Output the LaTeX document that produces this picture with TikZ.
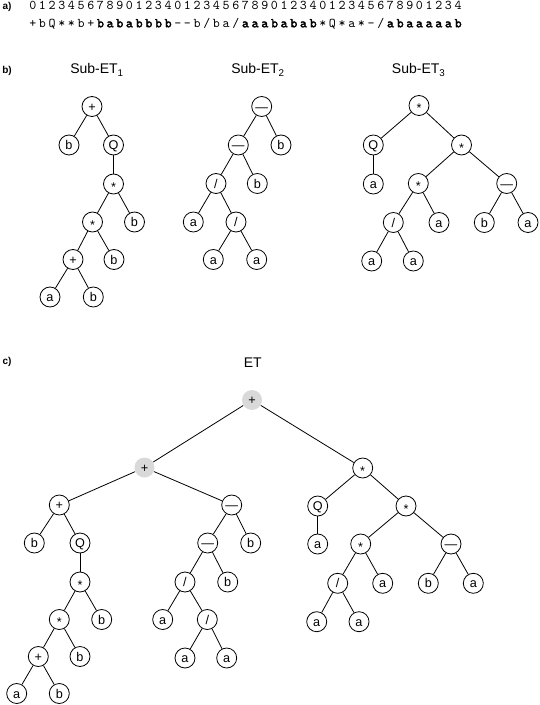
\documentclass[tikz,border=0pt]{standalone}
\usepackage{fontspec}
\setmainfont{Liberation Sans}
\newfontfamily\codefont{lmmono10-regular.otf}
\newfontfamily\codeb[FakeBold=2.5]{lmmono10-regular.otf}
\def\spread#1{\ifx#1\relax\else\makebox[7.25pt][c]{#1}\expandafter\spread\fi}
\newcommand\bspread{\codeb\fontsize{10}{11}\selectfont\spread}
\newcommand\astr{\raisebox{-2pt}{*}}
\tikzset{
  nd/.style={circle,draw,line width=0.6pt,minimum size=15pt,inner sep=0pt,
    font=\fontsize{9.5}{9.5}\selectfont,text height=6.8pt,text depth=0pt},
  gnd/.style={nd,draw=none,fill=black!15},
  ttl/.style={font=\fontsize{10.5}{12}\selectfont,inner sep=0pt,anchor=base west},
  lbl/.style={font=\bfseries\fontsize{7.5}{9}\selectfont,inner sep=0pt},
  code/.style={font=\codefont\fontsize{10}{11}\selectfont,inner sep=0pt,anchor=base west},
  edge/.style={line width=0.6pt}
}
\begin{document}
\begin{tikzpicture}[x=0.75pt,y=-0.75pt]
\useasboundingbox (0,0) rectangle (539,705);
% labels
\node[lbl] (la) at (7,7) {a)};
\node[lbl] (lb) at (7,71) {b)};
\node[lbl] (lc) at (7,361.5) {c)};
% code
\node[code] (t1) at (27.7,9.3) {\spread 012345678901234012345678901234012345678901234\relax};
\node[code] (t2) at (27.7,27.3) {\spread +bQ**b+\relax{\bspread bababbbb\relax}\spread --b/ba/\relax{\bspread aaababab\relax}\spread *Q*a*-/\relax{\bspread abaaaaab\relax}};
% titles
\node[ttl] (s1) at (70,74) {Sub-ET\textsubscript{1}};
\node[ttl] (s2) at (231,74) {Sub-ET\textsubscript{2}};
\node[ttl] (s3) at (391.7,74) {Sub-ET\textsubscript{3}};
\node[ttl,anchor=base] (et) at (252.7,367.3) {ET};
% Sub-ET1
\node[nd] (a1) at (92,106.5) {+};
\node[nd] (a2) at (69,145) {b};
\node[nd] (a3) at (113.5,145) {Q};
\node[nd] (a4) at (113.5,184) {\astr};
\node[nd] (a5) at (92.5,222) {\astr};
\node[nd] (a6) at (134.5,222) {b};
\node[nd] (a7) at (73,259.5) {+};
\node[nd] (a8) at (114,259.5) {b};
\node[nd] (a9) at (50,297) {a};
\node[nd] (a10) at (93.3,297) {b};
\foreach \u/\v in {a1/a2,a1/a3,a3/a4,a4/a5,a4/a6,a5/a7,a5/a8,a7/a9,a7/a10}
  \draw[edge] (\u) -- (\v);
% Sub-ET2
\node[nd] (b1) at (261.7,106.5) {—};
\node[nd] (b2) at (238.3,145) {—};
\node[nd] (b3) at (281,145) {b};
\node[nd] (b4) at (216,183.5) {/};
\node[nd] (b5) at (257.3,183.5) {b};
\node[nd] (b6) at (193.3,222) {a};
\node[nd] (b7) at (236,222) {/};
\node[nd] (b8) at (213.3,259.5) {a};
\node[nd] (b9) at (256.7,259.5) {a};
\foreach \u/\v in {b1/b2,b1/b3,b2/b4,b2/b5,b4/b6,b4/b7,b7/b8,b7/b9}
  \draw[edge] (\u) -- (\v);
% Sub-ET3
\node[nd] (c1) at (419,105.5) {\astr};
\node[nd] (c2) at (373.3,145) {Q};
\node[nd] (c3) at (461.5,145) {\astr};
\node[nd] (c4) at (373.3,184) {a};
\node[nd] (c5) at (418.3,183.5) {\astr};
\node[nd] (c6) at (506.7,183.5) {—};
\node[nd] (c7) at (393.3,222.5) {/};
\node[nd] (c8) at (439,222.5) {a};
\node[nd] (c9) at (484.3,222.5) {b};
\node[nd] (c10) at (528,222.5) {a};
\node[nd] (c11) at (371.7,261) {a};
\node[nd] (c12) at (413.3,261) {a};
\foreach \u/\v in {c1/c2,c1/c3,c2/c4,c3/c5,c3/c6,c5/c7,c5/c8,c6/c9,c6/c10,c7/c11,c7/c12}
  \draw[edge] (\u) -- (\v);
% ET
\node[gnd] (e1) at (252,400) {+};
\node[gnd] (e2) at (144.5,467.5) {+};
\node[nd] (e3) at (362.7,468) {\astr};
\node[nd] (e4) at (59.3,505) {+};
\node[nd] (e5) at (231.7,505) {—};
\node[nd] (e6) at (34.3,543) {b};
\node[nd] (e7) at (80,543) {Q};
\node[nd] (e8) at (207.7,543) {—};
\node[nd] (e9) at (250.7,543) {b};
\node[nd] (e10) at (80,582) {\astr};
\node[nd] (e11) at (185,582) {/};
\node[nd] (e12) at (227.7,582) {b};
\node[nd] (e13) at (59.3,619.5) {\astr};
\node[nd] (e14) at (101.7,619.5) {b};
\node[nd] (e15) at (162.7,619.5) {a};
\node[nd] (e16) at (207.3,619.5) {/};
\node[nd] (e17) at (38.3,656.5) {+};
\node[nd] (e18) at (80,656.5) {b};
\node[nd] (e19) at (185,658) {a};
\node[nd] (e20) at (226.7,658) {a};
\node[nd] (e21) at (16.7,693.5) {a};
\node[nd] (e22) at (59.3,693.5) {b};
\node[nd] (e23) at (317.7,506) {Q};
\node[nd] (e24) at (406,506) {\astr};
\node[nd] (e25) at (317.7,544) {a};
\node[nd] (e26) at (360.7,544) {\astr};
\node[nd] (e27) at (451,544) {—};
\node[nd] (e28) at (337.7,583.3) {/};
\node[nd] (e29) at (382.7,583.3) {a};
\node[nd] (e30) at (428.3,583.3) {b};
\node[nd] (e31) at (473.3,583.3) {a};
\node[nd] (e32) at (316.7,621.7) {a};
\node[nd] (e33) at (359,621.7) {a};
\foreach \u/\v in {e1/e2,e1/e3,e2/e4,e2/e5,e4/e6,e4/e7,e7/e10,e10/e13,e10/e14,e13/e17,e13/e18,e17/e21,e17/e22,
  e5/e8,e5/e9,e8/e11,e8/e12,e11/e15,e11/e16,e16/e19,e16/e20,
  e3/e23,e3/e24,e23/e25,e24/e26,e24/e27,e26/e28,e26/e29,e27/e30,e27/e31,e28/e32,e28/e33}
  \draw[edge] (\u) -- (\v);
\end{tikzpicture}
\end{document}
